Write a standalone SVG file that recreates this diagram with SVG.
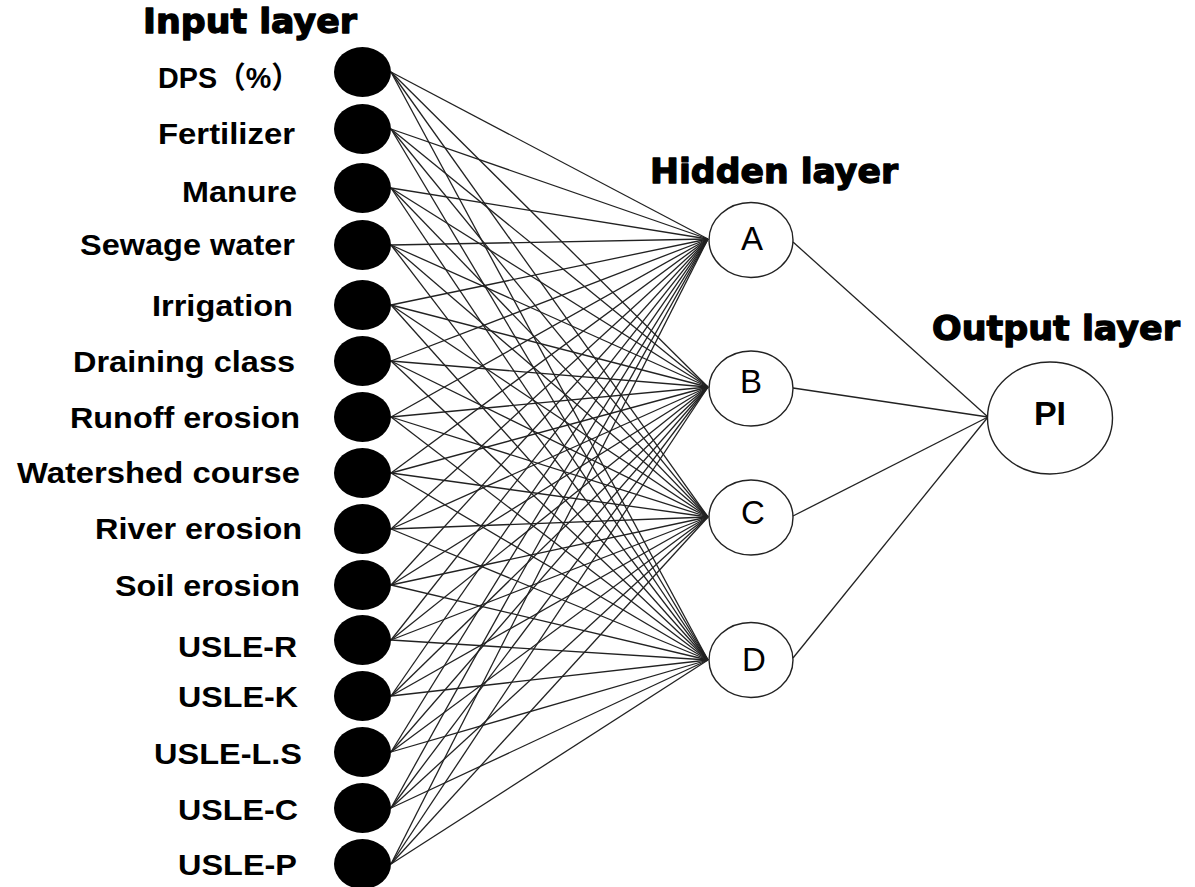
<svg xmlns="http://www.w3.org/2000/svg" width="1195" height="887" viewBox="0 0 1195 887">
<style>
.title{font-family:"DejaVu Sans",sans-serif;font-weight:bold;font-size:34px;fill:#000;stroke:#000;stroke-width:1.3;stroke-linejoin:round}
.lbl{font-family:"Liberation Sans","Noto Sans CJK SC",sans-serif;font-weight:bold;font-size:30px;fill:#000}
.in{fill:#000;stroke:none}
.hid{fill:#fff;stroke:#222;stroke-width:1.4}
.hl{font-family:"Liberation Sans",Arial,sans-serif;font-size:33px;fill:#000;text-anchor:middle}
.pl{font-family:"Liberation Sans",Arial,sans-serif;font-weight:bold;font-size:34px;fill:#000;text-anchor:middle}
.c line{stroke:#222;stroke-width:1.3}
</style>
<rect width="1195" height="887" fill="#fff"/>
<text class="title" x="143" y="33" textLength="214" lengthAdjust="spacingAndGlyphs">Input layer</text>
<text class="title" x="650" y="183" textLength="248" lengthAdjust="spacingAndGlyphs">Hidden layer</text>
<text class="title" x="932" y="340" textLength="248" lengthAdjust="spacingAndGlyphs">Output layer</text>
<g class="c" id="connectors">
<line x1="391" y1="72" x2="708" y2="239"/><line x1="391" y1="72" x2="708" y2="387"/><line x1="391" y1="72" x2="708" y2="517"/><line x1="391" y1="72" x2="708" y2="660"/>
<line x1="391" y1="129" x2="708" y2="239"/><line x1="391" y1="129" x2="708" y2="387"/><line x1="391" y1="129" x2="708" y2="517"/><line x1="391" y1="129" x2="708" y2="660"/>
<line x1="391" y1="188" x2="708" y2="239"/><line x1="391" y1="188" x2="708" y2="387"/><line x1="391" y1="188" x2="708" y2="517"/><line x1="391" y1="188" x2="708" y2="660"/>
<line x1="391" y1="245" x2="708" y2="239"/><line x1="391" y1="245" x2="708" y2="387"/><line x1="391" y1="245" x2="708" y2="517"/><line x1="391" y1="245" x2="708" y2="660"/>
<line x1="391" y1="305" x2="708" y2="239"/><line x1="391" y1="305" x2="708" y2="387"/><line x1="391" y1="305" x2="708" y2="517"/><line x1="391" y1="305" x2="708" y2="660"/>
<line x1="391" y1="361" x2="708" y2="239"/><line x1="391" y1="361" x2="708" y2="387"/><line x1="391" y1="361" x2="708" y2="517"/><line x1="391" y1="361" x2="708" y2="660"/>
<line x1="391" y1="417" x2="708" y2="239"/><line x1="391" y1="417" x2="708" y2="387"/><line x1="391" y1="417" x2="708" y2="517"/><line x1="391" y1="417" x2="708" y2="660"/>
<line x1="391" y1="473" x2="708" y2="239"/><line x1="391" y1="473" x2="708" y2="387"/><line x1="391" y1="473" x2="708" y2="517"/><line x1="391" y1="473" x2="708" y2="660"/>
<line x1="391" y1="529" x2="708" y2="239"/><line x1="391" y1="529" x2="708" y2="387"/><line x1="391" y1="529" x2="708" y2="517"/><line x1="391" y1="529" x2="708" y2="660"/>
<line x1="391" y1="585" x2="708" y2="239"/><line x1="391" y1="585" x2="708" y2="387"/><line x1="391" y1="585" x2="708" y2="517"/><line x1="391" y1="585" x2="708" y2="660"/>
<line x1="391" y1="640" x2="708" y2="239"/><line x1="391" y1="640" x2="708" y2="387"/><line x1="391" y1="640" x2="708" y2="517"/><line x1="391" y1="640" x2="708" y2="660"/>
<line x1="391" y1="696" x2="708" y2="239"/><line x1="391" y1="696" x2="708" y2="387"/><line x1="391" y1="696" x2="708" y2="517"/><line x1="391" y1="696" x2="708" y2="660"/>
<line x1="391" y1="752" x2="708" y2="239"/><line x1="391" y1="752" x2="708" y2="387"/><line x1="391" y1="752" x2="708" y2="517"/><line x1="391" y1="752" x2="708" y2="660"/>
<line x1="391" y1="808" x2="708" y2="239"/><line x1="391" y1="808" x2="708" y2="387"/><line x1="391" y1="808" x2="708" y2="517"/><line x1="391" y1="808" x2="708" y2="660"/>
<line x1="391" y1="864" x2="708" y2="239"/><line x1="391" y1="864" x2="708" y2="387"/><line x1="391" y1="864" x2="708" y2="517"/><line x1="391" y1="864" x2="708" y2="660"/>
<line x1="793" y1="242" x2="988" y2="417"/>
<line x1="793" y1="388" x2="988" y2="417"/>
<line x1="793" y1="516" x2="988" y2="417"/>
<line x1="793" y1="658" x2="988" y2="417"/>
</g>
<g id="in1"><ellipse class="in" cx="362.5" cy="72" rx="28.5" ry="25"/><text class="lbl" x="158" y="88" textLength="142" lengthAdjust="spacingAndGlyphs">DPS（%）</text></g>
<g id="in2"><ellipse class="in" cx="362.5" cy="129" rx="28.5" ry="25"/><text class="lbl" x="158" y="144" textLength="137" lengthAdjust="spacingAndGlyphs">Fertilizer</text></g>
<g id="in3"><ellipse class="in" cx="362.5" cy="188" rx="28.5" ry="25"/><text class="lbl" x="182" y="202" textLength="115" lengthAdjust="spacingAndGlyphs">Manure</text></g>
<g id="in4"><ellipse class="in" cx="362.5" cy="245" rx="28.5" ry="25"/><text class="lbl" x="80" y="255" textLength="215" lengthAdjust="spacingAndGlyphs">Sewage water</text></g>
<g id="in5"><ellipse class="in" cx="362.5" cy="305" rx="28.5" ry="25"/><text class="lbl" x="152" y="316" textLength="141" lengthAdjust="spacingAndGlyphs">Irrigation</text></g>
<g id="in6"><ellipse class="in" cx="362.5" cy="361" rx="28.5" ry="25"/><text class="lbl" x="73" y="372" textLength="222" lengthAdjust="spacingAndGlyphs">Draining class</text></g>
<g id="in7"><ellipse class="in" cx="362.5" cy="417" rx="28.5" ry="25"/><text class="lbl" x="70" y="428" textLength="230" lengthAdjust="spacingAndGlyphs">Runoff erosion</text></g>
<g id="in8"><ellipse class="in" cx="362.5" cy="473" rx="28.5" ry="25"/><text class="lbl" x="17" y="483" textLength="283" lengthAdjust="spacingAndGlyphs">Watershed course</text></g>
<g id="in9"><ellipse class="in" cx="362.5" cy="529" rx="28.5" ry="25"/><text class="lbl" x="95" y="539" textLength="207" lengthAdjust="spacingAndGlyphs">River erosion</text></g>
<g id="in10"><ellipse class="in" cx="362.5" cy="585" rx="28.5" ry="25"/><text class="lbl" x="115" y="596" textLength="185" lengthAdjust="spacingAndGlyphs">Soil erosion</text></g>
<g id="in11"><ellipse class="in" cx="362.5" cy="640" rx="28.5" ry="25"/><text class="lbl" x="178" y="657" textLength="119" lengthAdjust="spacingAndGlyphs">USLE-R</text></g>
<g id="in12"><ellipse class="in" cx="362.5" cy="696" rx="28.5" ry="25"/><text class="lbl" x="178" y="707" textLength="120" lengthAdjust="spacingAndGlyphs">USLE-K</text></g>
<g id="in13"><ellipse class="in" cx="362.5" cy="752" rx="28.5" ry="25"/><text class="lbl" x="154" y="764" textLength="148" lengthAdjust="spacingAndGlyphs">USLE-L.S</text></g>
<g id="in14"><ellipse class="in" cx="362.5" cy="808" rx="28.5" ry="25"/><text class="lbl" x="178" y="820" textLength="120" lengthAdjust="spacingAndGlyphs">USLE-C</text></g>
<g id="in15"><ellipse class="in" cx="362.5" cy="864" rx="28.5" ry="25"/><text class="lbl" x="178" y="875" textLength="119" lengthAdjust="spacingAndGlyphs">USLE-P</text></g>
<g id="hA"><ellipse class="hid" cx="751" cy="240" rx="42" ry="37.5"/><text class="hl" x="752" y="250">A</text></g>
<g id="hB"><ellipse class="hid" cx="751" cy="388.5" rx="42" ry="37.5"/><text class="hl" x="751" y="393">B</text></g>
<g id="hC"><ellipse class="hid" cx="751" cy="517.5" rx="42" ry="37.5"/><text class="hl" x="753" y="524">C</text></g>
<g id="hD"><ellipse class="hid" cx="751" cy="660" rx="42" ry="37.5"/><text class="hl" x="754" y="671">D</text></g>
<g id="out"><ellipse class="hid" cx="1050" cy="418" rx="62.5" ry="56"/><text class="pl" x="1050" y="425">PI</text></g>
</svg>
